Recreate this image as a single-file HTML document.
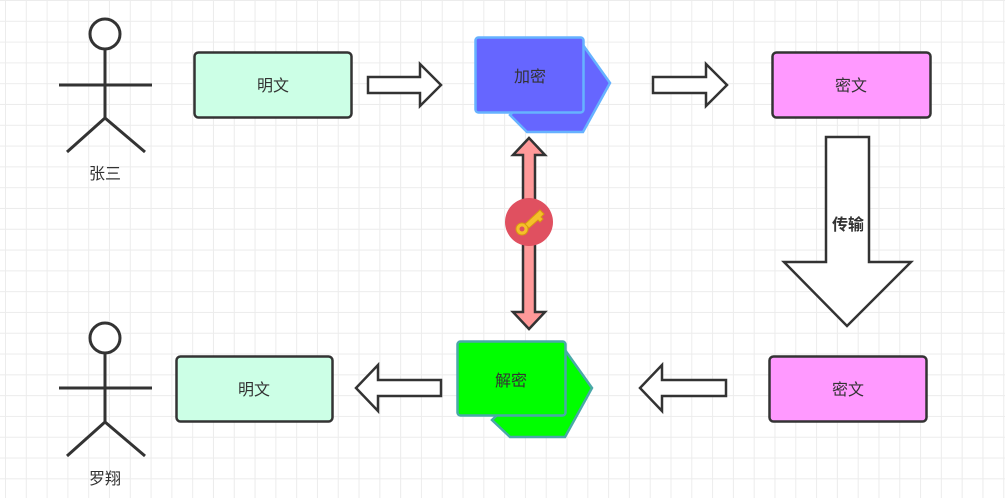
<!DOCTYPE html>
<html><head><meta charset="utf-8"><style>
html,body{margin:0;padding:0}
body{width:1005px;height:498px;overflow:hidden;background-color:#fff;
background-image:linear-gradient(#ececec 1px,transparent 1px),linear-gradient(90deg,#ececec 1px,transparent 1px);
background-size:20.8px 20.8px;background-position:5px 0px;}
svg{position:absolute;left:0;top:0}
text{font-family:"Liberation Sans","Noto Sans CJK SC",sans-serif;font-size:16px;fill:#333}
</style></head><body>
<svg width="1005" height="498" viewBox="0 0 1005 498">
<g stroke="#333" stroke-width="3" fill="none">
<circle cx="105" cy="34" r="15" fill="#fff"/>
<line x1="105" y1="49" x2="105" y2="118"/><line x1="59" y1="85" x2="152" y2="85"/>
<polyline points="67,152 105,118 145,152"/>
<circle cx="105" cy="338" r="15" fill="#fff"/>
<line x1="105" y1="353" x2="105" y2="422"/><line x1="59" y1="388" x2="152" y2="388"/>
<polyline points="67,456 105,422 145,456"/>
</g>
<text x="105" y="179" text-anchor="middle">张三</text>
<text x="105" y="484" text-anchor="middle">罗翔</text>
<rect x="194.5" y="52.5" width="157" height="65" rx="4" fill="#ccffe6" stroke="#333" stroke-width="2.5"/>
<text x="273" y="91" text-anchor="middle">明文</text>
<rect x="772.5" y="52.5" width="158" height="65" rx="4" fill="#ff99ff" stroke="#333" stroke-width="2.5"/>
<text x="851" y="91" text-anchor="middle">密文</text>
<rect x="176.5" y="356.5" width="156" height="65" rx="4" fill="#ccffe6" stroke="#333" stroke-width="2.5"/>
<text x="254" y="395" text-anchor="middle">明文</text>
<rect x="769.5" y="356.5" width="157" height="65" rx="4" fill="#ff99ff" stroke="#333" stroke-width="2.5"/>
<text x="848" y="395" text-anchor="middle">密文</text>
<g fill="#fff" stroke="#333" stroke-width="2.5" stroke-linejoin="miter">
<polygon points="368,77 420,77 420,64 441,85 420,106 420,93 368,93"/>
<polygon points="653,77 706,77 706,64 727,85 706,106 706,93 653,93"/>
<polygon points="441,380 378,380 378,365 356,388 378,411 378,396 441,396"/>
<polygon points="726,380 662,380 662,365 640,388 662,411 662,396 726,396"/>
<polygon points="826,137 869,137 869,262 911,262 847,326 784,262 826,262"/>
</g>
<text x="848" y="230" text-anchor="middle" font-weight="bold">传输</text>
<polygon points="529,138 545,155 535,155 535,312 545,312 529,329 513,312 523,312 523,155 513,155" fill="#ff9999" stroke="#333" stroke-width="2.5"/>
<circle cx="529" cy="222" r="24" fill="#e05060"/>
<g fill="#f5c02a" stroke="#d99a10" stroke-width="1">
<circle cx="522" cy="229" r="6"/>
<polygon points="525,224 540,210 544,214 541,217 543,219 540,222 538,220 529,228"/>
</g>
<circle cx="522" cy="229" r="2.5" fill="#e05060"/>
<polygon points="583,45 610,83 583,132 527,132 510,115" fill="#6666ff" stroke="#66b2ff" stroke-width="2.5"/>
<rect x="475.5" y="37.5" width="108" height="75" rx="3" fill="#6666ff" stroke="#66b2ff" stroke-width="2.5"/>
<text x="530" y="82" text-anchor="middle">加密</text>
<polygon points="565,350 592,388 565,437 510,437 492,420" fill="#00ff00" stroke="#4aa8a8" stroke-width="2.5"/>
<rect x="457.5" y="341.5" width="108" height="74" rx="3" fill="#00ff00" stroke="#4aa8a8" stroke-width="2.5"/>
<text x="511" y="386" text-anchor="middle">解密</text>
</svg>
</body></html>
